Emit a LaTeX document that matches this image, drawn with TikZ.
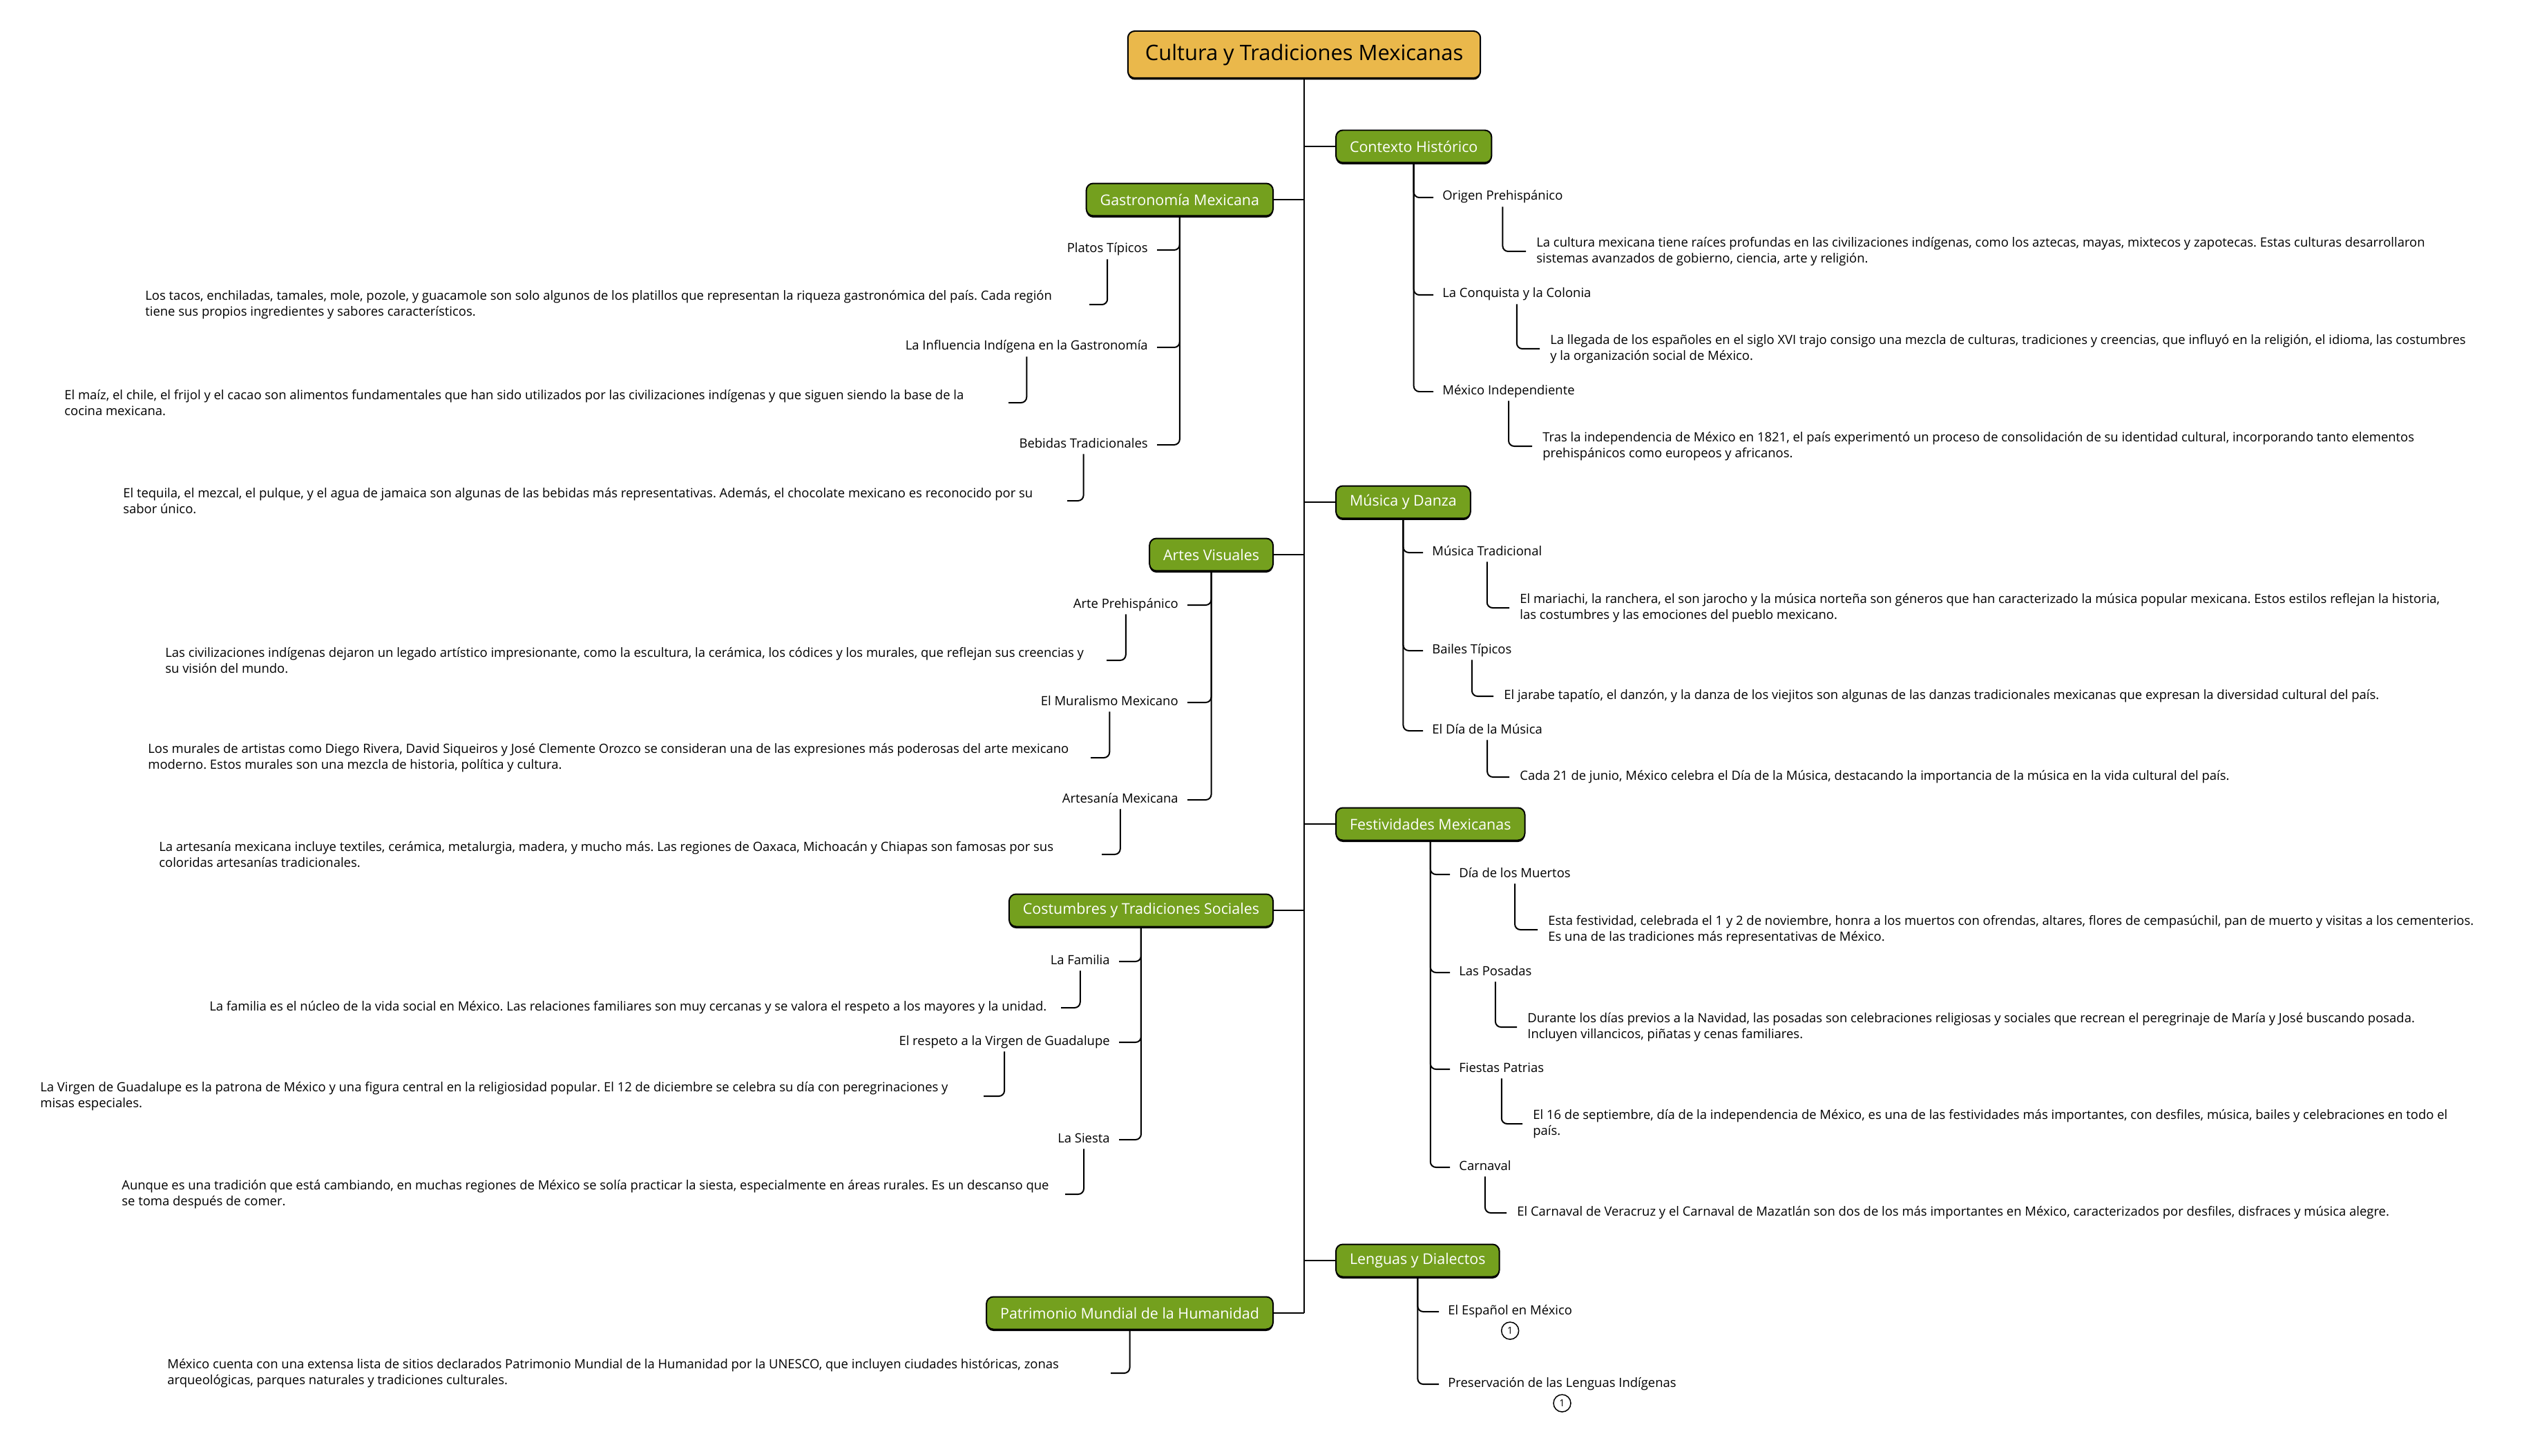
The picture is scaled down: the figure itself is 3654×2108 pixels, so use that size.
\documentclass[tikz,border=0pt]{standalone}
\usepackage{fontspec}
\setmainfont{Open Sans}
\usepackage{xcolor}
\usetikzlibrary{positioning,shadows}
\definecolor{rootc}{HTML}{EAB84B}
\definecolor{topicc}{HTML}{74A01E}
\frenchspacing
\tikzset{
  root/.style={draw=black,line width=0.04cm,fill=rootc,rounded corners=0.2cm,inner xsep=0.5cm,minimum height=1.36cm,font=\fontsize{17.6}{20}\selectfont,drop shadow={shadow xshift=0cm,shadow yshift=-0.05cm,fill=black,opacity=1}},
  topic/.style={draw=black,line width=0.04cm,fill=topicc,text=white,rounded corners=0.2cm,inner xsep=0.4cm,minimum height=0.94cm,font=\fontsize{12.2}{14}\selectfont,drop shadow={shadow xshift=0cm,shadow yshift=-0.05cm,fill=black,opacity=1}},
  sub/.style={inner xsep=0.26cm,inner ysep=0.12cm,text height=0.22cm,text depth=0.06cm,font=\fontsize{10.5}{12}\selectfont},
  desc/.style={inner xsep=0.3cm,inner ysep=0cm,align=left,font=\fontsize{10.5}{13.4}\selectfont},
  trunk/.style={line width=0.05cm},
  link/.style={line width=0.04cm,rounded corners=0.16cm},
  badge/.style={circle,draw,fill=white,line width=0.03cm,minimum size=0.5cm,inner sep=0pt,font=\fontsize{8}{9}\selectfont}
}

\begin{document}
\begin{tikzpicture}[x=0.02cm,y=-0.02cm]
\useasboundingbox (0,0) rectangle (3654,2108);
\fill[white] (0,0) rectangle (3654,2108);

% centre and main branches
\node[root] (root) at (1888,79) {Cultura y Tradiciones Mexicanas};
\node[topic,anchor=west] (ctx) at (1933,212) {Contexto Histórico};
\node[topic,anchor=west] (mus) at (1933,727) {Música y Danza};
\node[topic,anchor=west] (fes) at (1933,1193) {Festividades Mexicanas};
\node[topic,anchor=west] (len) at (1933,1825) {Lenguas y Dialectos};
\node[topic,anchor=east] (gas) at (1844,289) {Gastronomía Mexicana};
\node[topic,anchor=east] (art) at (1844,803) {Artes Visuales};
\node[topic,anchor=east] (cos) at (1844,1318) {Costumbres y Tradiciones Sociales};
\node[topic,anchor=east] (pat) at (1844,1901) {Patrimonio Mundial de la Humanidad};
\draw[trunk] (root.south) -- (root.south |- pat.east);
\foreach \t in {ctx,mus,fes,len} \draw[trunk] (root.south |- \t.west) -- (\t.west);
\foreach \t in {gas,art,cos,pat} \draw[trunk] (root.south |- \t.east) -- (\t.east);

% Contexto Historico
\node[sub,anchor=west] (origen) at (2075,286) {Origen Prehispánico};
\node[sub,anchor=west] (conq) at (2075,427) {La Conquista y la Colonia};
\node[sub,anchor=west] (indep) at (2075,567) {México Independiente};
\foreach \s in {origen,conq,indep} \draw[link] (ctx.south) |- (\s.west);
\node[desc,anchor=west] (origend) at (2209,364) {La cultura mexicana tiene raíces profundas en las civilizaciones indígenas, como los aztecas, mayas, mixtecos y zapotecas. Estas culturas desarrollaron\\sistemas avanzados de gobierno, ciencia, arte y religión.};
\node[desc,anchor=west] (conqd) at (2229,505) {La llegada de los españoles en el siglo XVI trajo consigo una mezcla de culturas, tradiciones y creencias, que influyó en la religión, el idioma, las costumbres\\y la organización social de México.};
\node[desc,anchor=west] (indepd) at (2218,646) {Tras la independencia de México en 1821, el país experimentó un proceso de consolidación de su identidad cultural, incorporando tanto elementos\\prehispánicos como europeos y africanos.};
\foreach \s in {origen,conq,indep} \draw[link] (\s.south) |- (\s d.west);

% Musica y Danza
\node[sub,anchor=west] (trad) at (2060,800) {Música Tradicional};
\node[sub,anchor=west] (bailes) at (2060,942) {Bailes Típicos};
\node[sub,anchor=west] (diamus) at (2060,1058) {El Día de la Música};
\foreach \s in {trad,bailes,diamus} \draw[link] (mus.south) |- (\s.west);
\node[desc,anchor=west] (tradd) at (2185,880) {El mariachi, la ranchera, el son jarocho y la música norteña son géneros que han caracterizado la música popular mexicana. Estos estilos reflejan la historia,\\las costumbres y las emociones del pueblo mexicano.};
\node[desc,anchor=west] (bailesd) at (2162,1008) {El jarabe tapatío, el danzón, y la danza de los viejitos son algunas de las danzas tradicionales mexicanas que expresan la diversidad cultural del país.};
\node[desc,anchor=west] (diamusd) at (2185,1125) {Cada 21 de junio, México celebra el Día de la Música, destacando la importancia de la música en la vida cultural del país.};
\foreach \s in {trad,bailes,diamus} \draw[link] (\s.south) |- (\s d.west);

% Festividades Mexicanas
\node[sub,anchor=west] (muertos) at (2099,1266) {Día de los Muertos};
\node[sub,anchor=west] (posadas) at (2099,1408) {Las Posadas};
\node[sub,anchor=west] (patrias) at (2099,1548) {Fiestas Patrias};
\node[sub,anchor=west] (carnaval) at (2099,1690) {Carnaval};
\foreach \s in {muertos,posadas,patrias,carnaval} \draw[link] (fes.south) |- (\s.west);
\node[desc,anchor=west] (muertosd) at (2226,1346) {Esta festividad, celebrada el 1 y 2 de noviembre, honra a los muertos con ofrendas, altares, flores de cempasúchil, pan de muerto y visitas a los cementerios.\\Es una de las tradiciones más representativas de México.};
\node[desc,anchor=west] (posadasd) at (2196,1487) {Durante los días previos a la Navidad, las posadas son celebraciones religiosas y sociales que recrean el peregrinaje de María y José buscando posada.\\Incluyen villancicos, piñatas y cenas familiares.};
\node[desc,anchor=west] (patriasd) at (2204,1627) {El 16 de septiembre, día de la independencia de México, es una de las festividades más importantes, con desfiles, música, bailes y celebraciones en todo el\\país.};
\node[desc,anchor=west] (carnavald) at (2181,1756) {El Carnaval de Veracruz y el Carnaval de Mazatlán son dos de los más importantes en México, caracterizados por desfiles, disfraces y música alegre.};
\foreach \s in {muertos,posadas,patrias,carnaval} \draw[link] (\s.south) |- (\s d.west);

% Lenguas y Dialectos
\node[sub,anchor=west] (espanol) at (2083,1899) {El Español en México};
\node[sub,anchor=west] (preserv) at (2083,2004) {Preservación de las Lenguas Indígenas};
\foreach \s in {espanol,preserv} \draw[link] (len.south) |- (\s.west);
\node[badge,below=0.02cm of espanol] (espanolb) {1};
\node[badge,below=0.02cm of preserv] (preservb) {1};

% Gastronomia Mexicana
\node[sub,anchor=east] (platos) at (1675,362) {Platos Típicos};
\node[sub,anchor=east] (influ) at (1675,503) {La Influencia Indígena en la Gastronomía};
\node[sub,anchor=east] (bebidas) at (1675,644) {Bebidas Tradicionales};
\foreach \s in {platos,influ,bebidas} \draw[link] (gas.south) |- (\s.east);
\node[desc,anchor=west] (platosd) at (195,441) {Los tacos, enchiladas, tamales, mole, pozole, y guacamole son solo algunos de los platillos que representan la riqueza gastronómica del país. Cada región\\tiene sus propios ingredientes y sabores característicos.};
\node[desc,anchor=west] (influd) at (78,583) {El maíz, el chile, el frijol y el cacao son alimentos fundamentales que han sido utilizados por las civilizaciones indígenas y que siguen siendo la base de la\\cocina mexicana.};
\node[desc,anchor=west] (bebidasd) at (163,725) {El tequila, el mezcal, el pulque, y el agua de jamaica son algunas de las bebidas más representativas. Además, el chocolate mexicano es reconocido por su\\sabor único.};
\coordinate (platose) at (1577,441);
\coordinate (influe) at (1460,583);
\coordinate (bebidase) at (1545,725);
\foreach \s in {platos,influ,bebidas} \draw[link] (\s.south) |- (\s e);

% Artes Visuales
\node[sub,anchor=east] (arte) at (1719,876) {Arte Prehispánico};
\node[sub,anchor=east] (mural) at (1719,1017) {El Muralismo Mexicano};
\node[sub,anchor=east] (artesania) at (1719,1158) {Artesanía Mexicana};
\foreach \s in {arte,mural,artesania} \draw[link] (art.south) |- (\s.east);
\node[desc,anchor=west] (arted) at (224,956) {Las civilizaciones indígenas dejaron un legado artístico impresionante, como la escultura, la cerámica, los códices y los murales, que reflejan sus creencias y\\su visión del mundo.};
\node[desc,anchor=west] (murald) at (199,1097) {Los murales de artistas como Diego Rivera, David Siqueiros y José Clemente Orozco se consideran una de las expresiones más poderosas del arte mexicano\\moderno. Estos murales son una mezcla de historia, política y cultura.};
\node[desc,anchor=west] (artesaniad) at (215,1237) {La artesanía mexicana incluye textiles, cerámica, metalurgia, madera, y mucho más. Las regiones de Oaxaca, Michoacán y Chiapas son famosas por sus\\coloridas artesanías tradicionales.};
\coordinate (artee) at (1602,956);
\coordinate (murale) at (1579,1097);
\coordinate (artesaniae) at (1595,1237);
\foreach \s in {arte,mural,artesania} \draw[link] (\s.south) |- (\s e);

% Costumbres y Tradiciones Sociales
\node[sub,anchor=east] (familia) at (1620,1392) {La Familia};
\node[sub,anchor=east] (virgen) at (1620,1509) {El respeto a la Virgen de Guadalupe};
\node[sub,anchor=east] (siesta) at (1620,1650) {La Siesta};
\foreach \s in {familia,virgen,siesta} \draw[link] (cos.south) |- (\s.east);
\node[desc,anchor=west] (familiad) at (288,1459) {La familia es el núcleo de la vida social en México. Las relaciones familiares son muy cercanas y se valora el respeto a los mayores y la unidad.};
\node[desc,anchor=west] (virgend) at (43,1587) {La Virgen de Guadalupe es la patrona de México y una figura central en la religiosidad popular. El 12 de diciembre se celebra su día con peregrinaciones y\\misas especiales.};
\node[desc,anchor=west] (siestad) at (161,1729) {Aunque es una tradición que está cambiando, en muchas regiones de México se solía practicar la siesta, especialmente en áreas rurales. Es un descanso que\\se toma después de comer.};
\coordinate (familiae) at (1536,1459);
\coordinate (virgene) at (1424,1587);
\coordinate (siestae) at (1542,1729);
\foreach \s in {familia,virgen,siesta} \draw[link] (\s.south) |- (\s e);

% Patrimonio Mundial
\node[desc,anchor=west] (patd) at (227,1988) {México cuenta con una extensa lista de sitios declarados Patrimonio Mundial de la Humanidad por la UNESCO, que incluyen ciudades históricas, zonas\\arqueológicas, parques naturales y tradiciones culturales.};
\coordinate (pate) at (1608,1988);
\draw[link] (pat.south) |- (pate);
\end{tikzpicture}
\end{document}
